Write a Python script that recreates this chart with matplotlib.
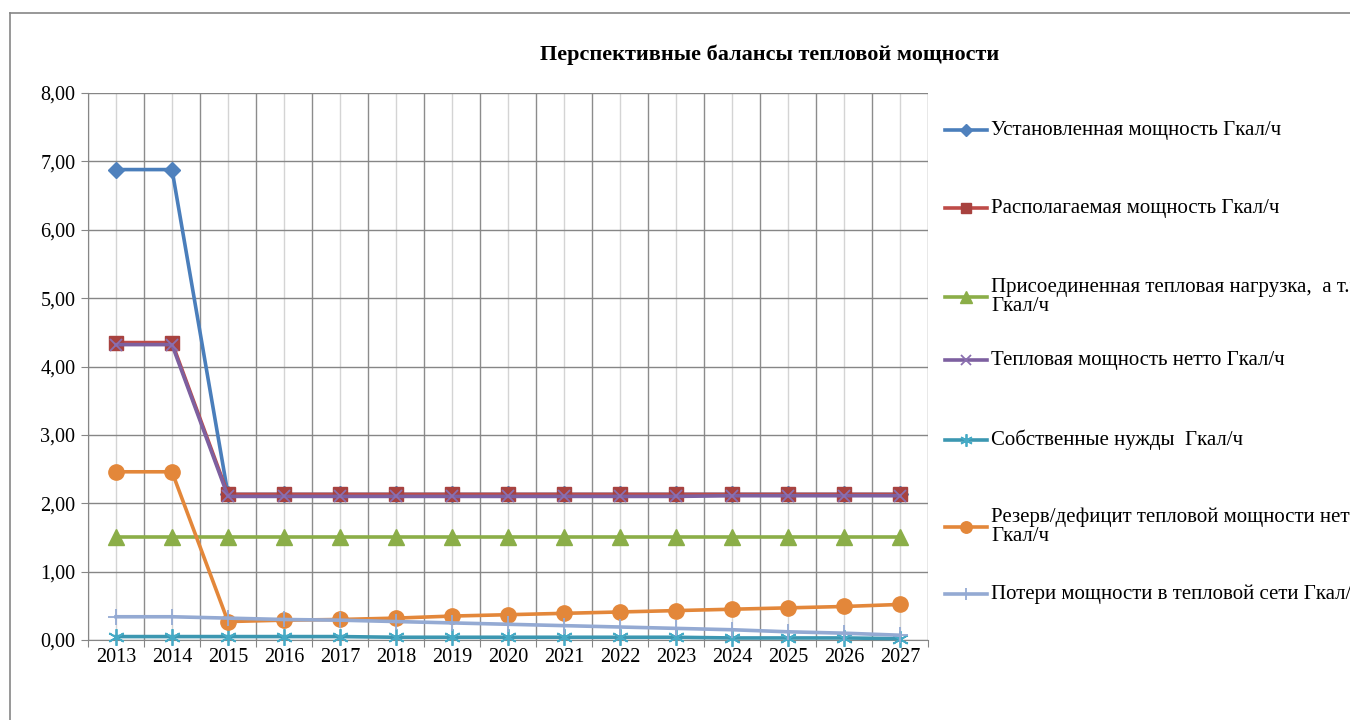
import matplotlib
matplotlib.use("Agg")
import matplotlib.pyplot as plt
from matplotlib.lines import Line2D
import numpy as np

plt.rcParams['font.family'] = ['Liberation Serif', 'DejaVu Serif']

years = [str(y) for y in range(2013, 2028)]

installed = [6.88, 6.88, 2.13, 2.13, 2.13, 2.13, 2.13, 2.13, 2.13, 2.13, 2.13, 2.13, 2.13, 2.13, 2.13]
available = [4.35, 4.35, 2.13, 2.13, 2.13, 2.13, 2.13, 2.13, 2.13, 2.13, 2.13, 2.13, 2.13, 2.13, 2.13]
connected = [1.50] * 15
net_power = [4.32, 4.32, 2.10, 2.10, 2.10, 2.10, 2.10, 2.10, 2.10, 2.10, 2.10, 2.11, 2.11, 2.11, 2.11]
own_needs = [0.05, 0.05, 0.05, 0.05, 0.05, 0.04, 0.04, 0.04, 0.04, 0.04, 0.04, 0.03, 0.03, 0.03, 0.02]
reserve = [2.46, 2.46, 0.27, 0.29, 0.30, 0.32, 0.35, 0.37, 0.39, 0.41, 0.43, 0.45, 0.47, 0.49, 0.52]
losses = [0.34, 0.34, 0.32, 0.30, 0.29, 0.27, 0.25, 0.23, 0.21, 0.19, 0.17, 0.15, 0.12, 0.10, 0.07]

labels = [
    "Установленная мощность Гкал/ч",
    "Располагаемая мощность Гкал/ч",
    "Присоединенная тепловая нагрузка,  а т.ч.\nГкал/ч",
    "Тепловая мощность нетто Гкал/ч",
    "Собственные нужды  Гкал/ч",
    "Резерв/дефицит тепловой мощности нетто\nГкал/ч",
    "Потери мощности в тепловой сети Гкал/ч",
]

series = [installed, available, connected, net_power, own_needs, reserve, losses]
styles = [
    dict(color="#4A7EBB", marker="D", ms=8, mfc="#4F81BD", mec="#4F81BD"),
    dict(color="#BE4B48", marker="s", ms=10.5, mfc="#A8423F", mec="#A8423F"),
    dict(color="#8BAE48", marker="^", ms=11, mfc="#8BAE48", mec="#8BAE48"),
    dict(color="#7D60A0", marker="x", ms=9, mfc="#7D60A0", mec="#8A6FB0", mew=1.3),
    dict(color="#3C97B1", marker=(6, 2, 0), ms=12, mfc="#46AAC5", mec="#46AAC5", mew=1.3),
    dict(color="#E3873A", marker="o", ms=11, mfc="#E3873A", mec="#E3873A"),
    dict(color="#94AAD3", marker="+", ms=12, mfc="#94AAD3", mec="#94AAD3", mew=1.3),
]

fig = plt.figure(figsize=(13.5, 7.2), dpi=100)
ax = fig.add_axes([88 / 1350, 1 - 640 / 720, 840 / 1350, 547 / 720])

x = np.arange(len(years))
for vals, st in zip(series, styles):
    ax.plot(x, vals, lw=2.6, clip_on=False, zorder=3, **st)

ax.set_xlim(-0.5, len(years) - 0.5)
ax.set_ylim(0, 8)
ax.set_yticks(np.arange(0, 9, 1))
ax.set_yticklabels([f"{v:.2f}".replace(".", ",") for v in np.arange(0, 9, 1)], fontsize=14.5)
ax.set_xticks(np.arange(-0.5, len(years), 1))
ax.set_xticklabels([])
ax.set_xticks(x, minor=True)
ax.set_xticklabels(years, minor=True, fontsize=14.5)
ax.tick_params(axis='x', which='minor', length=0, pad=6)
ax.tick_params(axis='x', which='major', length=5, color="#868686")
ax.tick_params(axis='y', length=5, color="#868686", pad=4)

ax.grid(axis='y', color="#868686", lw=1.0)
ax.grid(axis='x', which='major', color="#8C8C8C", lw=1.0)
ax.grid(axis='x', which='minor', color="#D4D4D4", lw=1.0)
ax.set_axisbelow(True)
for s in ['top', 'right']:
    ax.spines[s].set_visible(False)
for s in ['left', 'bottom']:
    ax.spines[s].set_color("#868686")

fig.text(770 / 1350, 1 - 55 / 720, "Перспективные балансы тепловой мощности",
         ha='center', va='center', fontsize=16, fontweight='bold')

# legend drawn by hand (the reference cuts the long labels at the right edge)
ly = [130, 208, 297, 360, 440, 527, 594]
for lab, st, yy in zip(labels, styles, ly):
    yf = 1 - yy / 720
    fig.add_artist(Line2D([945 / 1350, 987 / 1350], [yf, yf], lw=2.6,
                          transform=fig.transFigure, color=st["color"]))
    fig.add_artist(Line2D([966 / 1350], [yf], lw=0, transform=fig.transFigure,
                          **{**st, "ms": st["ms"] * 0.75}))
    fig.text(991 / 1350, yf, lab, ha='left', va='center', fontsize=15, linespacing=1.0)

# chart border
fig.add_artist(Line2D([10 / 1350, 10 / 1350], [0, 1 - 13 / 720], color="#868686", lw=1.2,
                      transform=fig.transFigure))
fig.add_artist(Line2D([10 / 1350, 1], [1 - 13 / 720, 1 - 13 / 720], color="#868686", lw=1.2,
                      transform=fig.transFigure))

fig.savefig("out.png", dpi=100)
